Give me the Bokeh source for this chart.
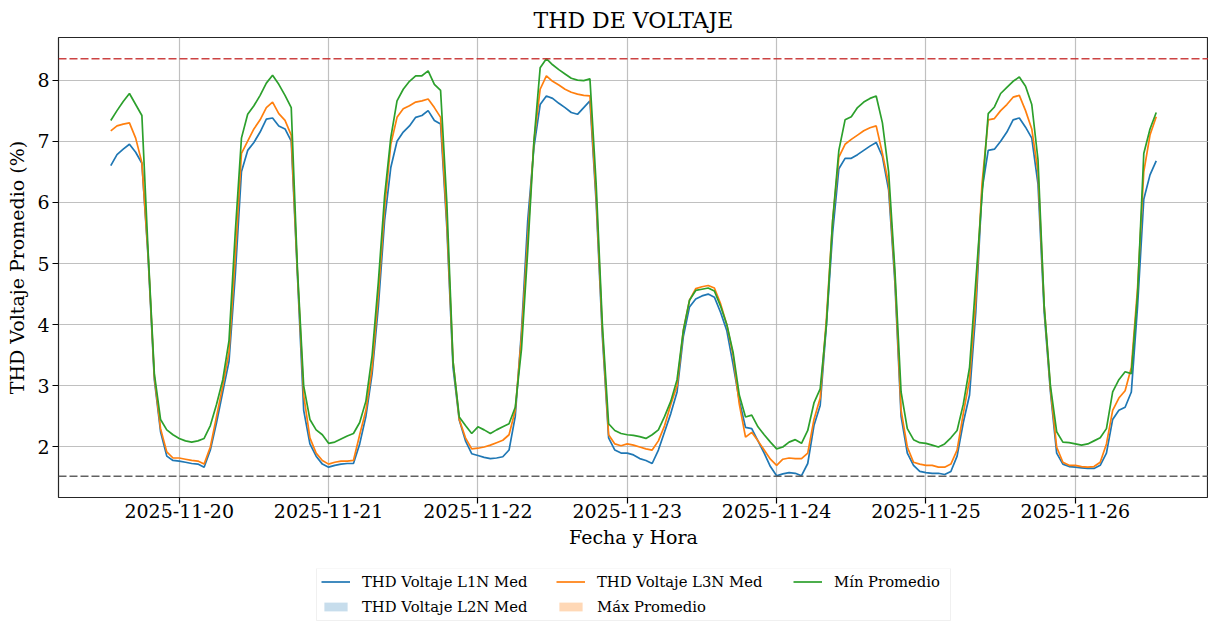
from datetime import datetime, timedelta
from bokeh.plotting import figure
from bokeh.layouts import column
from bokeh.models import (Range1d, FixedTicker, DatetimeTickFormatter, Span,
                          Legend, LegendItem, BoxAnnotation)
from bokeh.embed import file_html
from bokeh.resources import INLINE

# ---- data (hourly, starting 2025-11-19 13:00) ----
start_time = datetime(2025, 11, 19, 13)

# THD Voltaje L1N Med (blue)
l1n = [
    6.60, 6.78, 6.87, 6.95, 6.82, 6.64, 5.10, 3.10, 2.25, 1.85, 1.78,
    1.77, 1.75, 1.73, 1.72, 1.67, 1.95, 2.40, 2.90, 3.40, 4.80, 6.50, 6.85, 6.98, 7.15, 7.36, 7.38, 7.25, 7.20, 7.00, 4.80, 2.60, 2.05, 1.85, 1.72,
    1.67, 1.70, 1.72, 1.73, 1.73, 2.05, 2.50, 3.20, 4.30, 5.70, 6.57, 7.00, 7.15, 7.25, 7.39, 7.42, 7.50, 7.34, 7.28, 5.60, 3.30, 2.44, 2.10, 1.89,
    1.86, 1.83, 1.81, 1.82, 1.84, 1.95, 2.50, 3.90, 5.70, 6.90, 7.60, 7.74, 7.70, 7.62, 7.55, 7.47, 7.44, 7.55, 7.66, 6.00, 3.80, 2.15, 1.95, 1.90,
    1.90, 1.87, 1.81, 1.78, 1.73, 1.95, 2.25, 2.55, 2.90, 3.80, 4.29, 4.42, 4.47, 4.50, 4.45, 4.20, 3.90, 3.35, 2.76, 2.32, 2.30, 2.10, 1.90, 1.68,
    1.53, 1.56, 1.58, 1.57, 1.53, 1.73, 2.35, 2.68, 4.00, 5.50, 6.55, 6.72, 6.72, 6.78, 6.85, 6.92, 6.98, 6.75, 6.20, 4.70, 2.50, 1.90, 1.70, 1.60,
    1.58, 1.57, 1.57, 1.55, 1.60, 1.85, 2.40, 2.85, 4.20, 6.20, 6.85, 6.87, 7.00, 7.15, 7.35, 7.38, 7.23, 7.05, 6.30, 4.20, 2.90, 1.90, 1.72, 1.68,
    1.67, 1.66, 1.65, 1.65, 1.70, 1.90, 2.45, 2.60, 2.65, 2.90, 4.30, 6.05, 6.45, 6.68,
]

# THD Voltaje L3N Med (orange)
l3n = [
    7.17, 7.25, 7.28, 7.30, 7.05, 6.65, 5.15, 3.15, 2.30, 1.92, 1.82,
    1.82, 1.80, 1.78, 1.77, 1.72, 2.00, 2.50, 3.00, 3.55, 5.10, 6.80, 7.00, 7.20, 7.35, 7.55, 7.64, 7.45, 7.34, 7.10, 4.85, 2.85, 2.15, 1.90, 1.78,
    1.72, 1.75, 1.77, 1.77, 1.78, 2.20, 2.60, 3.30, 4.50, 5.90, 6.95, 7.39, 7.53, 7.58, 7.64, 7.66, 7.69, 7.55, 7.39, 5.70, 3.40, 2.45, 2.15, 1.97,
    1.98, 2.00, 2.03, 2.07, 2.11, 2.20, 2.60, 3.80, 5.40, 7.00, 7.85, 8.07, 7.98, 7.92, 7.85, 7.80, 7.77, 7.75, 7.74, 6.10, 3.90, 2.20, 2.05, 2.02,
    2.05, 2.03, 2.00, 1.97, 1.95, 2.10, 2.35, 2.70, 3.00, 3.90, 4.40, 4.59, 4.62, 4.64, 4.60, 4.34, 4.00, 3.50, 2.70, 2.16, 2.24, 2.10, 1.95, 1.80,
    1.70, 1.80, 1.82, 1.81, 1.81, 1.90, 2.45, 2.80, 4.10, 5.70, 6.74, 6.95, 7.03, 7.10, 7.17, 7.22, 7.25, 6.80, 6.30, 4.80, 2.60, 2.00, 1.75, 1.72,
    1.70, 1.70, 1.67, 1.67, 1.72, 1.95, 2.55, 3.10, 4.40, 6.30, 7.35, 7.37, 7.50, 7.60, 7.72, 7.75, 7.50, 7.20, 6.50, 4.30, 2.95, 2.00, 1.75, 1.70,
    1.70, 1.68, 1.67, 1.68, 1.75, 2.05, 2.60, 2.80, 2.92, 3.30, 4.60, 6.50, 7.10, 7.40,
]

# Mín Promedio (green)
min_prom = [
    7.34, 7.50, 7.65, 7.78, 7.60, 7.42, 5.20, 3.20, 2.45, 2.28, 2.20,
    2.14, 2.10, 2.08, 2.10, 2.14, 2.35, 2.70, 3.10, 3.74, 5.50, 7.05, 7.44, 7.58, 7.75, 7.95, 8.08, 7.93, 7.75, 7.55, 4.90, 3.00, 2.45, 2.28, 2.20,
    2.06, 2.08, 2.13, 2.18, 2.22, 2.40, 2.75, 3.50, 4.70, 6.10, 7.06, 7.66, 7.85, 7.98, 8.07, 8.07, 8.15, 7.93, 7.83, 6.00, 3.40, 2.49, 2.35, 2.22,
    2.33, 2.28, 2.22, 2.28, 2.33, 2.38, 2.65, 3.60, 5.20, 7.00, 8.20, 8.35, 8.25, 8.17, 8.10, 8.03, 8.00, 7.99, 8.02, 6.30, 4.00, 2.38, 2.27, 2.22,
    2.20, 2.19, 2.17, 2.14, 2.20, 2.28, 2.50, 2.75, 3.10, 3.90, 4.40, 4.56, 4.58, 4.60, 4.55, 4.30, 4.00, 3.55, 2.85, 2.49, 2.52, 2.33, 2.20, 2.08,
    1.97, 2.00, 2.08, 2.12, 2.06, 2.27, 2.72, 2.95, 4.00, 5.70, 6.85, 7.35, 7.40, 7.55, 7.64, 7.70, 7.74, 7.30, 6.50, 4.90, 2.90, 2.30, 2.12, 2.07,
    2.06, 2.03, 2.00, 2.05, 2.15, 2.27, 2.70, 3.30, 4.70, 6.10, 7.45, 7.56, 7.78, 7.88, 7.98, 8.05, 7.90, 7.60, 6.70, 4.30, 3.00, 2.25, 2.08, 2.07,
    2.05, 2.03, 2.05, 2.10, 2.15, 2.30, 2.90, 3.10, 3.23, 3.20, 4.50, 6.80, 7.20, 7.47,
]

max_ref = 8.35   # red dashed reference
min_ref = 1.52   # grey dashed reference

x_tick_dates = [datetime(2025, 11, d) for d in range(20, 27)]
y_ticks = [2, 3, 4, 5, 6, 7, 8]

labels = ["THD Voltaje L1N Med", "THD Voltaje L2N Med", "THD Voltaje L3N Med",
          "Máx Promedio", "Mín Promedio"]

BLUE, ORANGE, GREEN = "#1f77b4", "#ff7f0e", "#2ca02c"
SERIF = "DejaVu Serif"
LW = 1.7

# ---- main figure ----
times = [start_time + timedelta(hours=i) for i in range(len(l1n))]
pad = timedelta(hours=0.05 * (len(l1n) - 1))
x0, x1 = times[0] - pad, times[-1] + pad

p = figure(width=1208, height=568, x_axis_type="datetime",
           output_backend="svg", toolbar_location=None,
           x_range=Range1d(x0, x1), y_range=Range1d(1.174, 8.696),
           min_border_left=58, min_border_right=0,
           min_border_top=37, min_border_bottom=71)

p.title.text = "THD DE VOLTAJE"
p.title.align = "center"
p.title.text_font = SERIF
p.title.text_font_size = "22px"
p.title.text_font_style = "normal"
p.title.text_color = "black"
p.title.standoff = 9

p.background_fill_color = "white"
p.border_fill_color = "white"
p.outline_line_color = "black"
p.outline_line_width = 1.2
p.outline_line_alpha = 0.85

for ax in (p.xaxis, p.yaxis):
    ax.axis_line_color = None
    ax.major_tick_line_color = "black"
    ax.major_tick_line_width = 1.2
    ax.major_tick_out = 6
    ax.major_tick_in = 0
    ax.minor_tick_line_color = None
    ax.major_label_text_font = SERIF
    ax.major_label_text_font_size = "19px"
    ax.major_label_text_color = "black"
    ax.axis_label_text_font = SERIF
    ax.axis_label_text_font_size = "19px"
    ax.axis_label_text_font_style = "normal"
    ax.axis_label_text_color = "black"

p.xaxis.ticker = FixedTicker(ticks=[d.timestamp() * 1000 for d in x_tick_dates])
fmt = "%Y-%m-%d"
p.xaxis.formatter = DatetimeTickFormatter(days=fmt, months=fmt, hours=fmt,
                                          years=fmt, minutes=fmt)
p.xaxis.axis_label = "Fecha y Hora"
p.xaxis.major_label_standoff = 0
p.xaxis.axis_label_standoff = 5

p.yaxis.ticker = FixedTicker(ticks=y_ticks)
p.yaxis.axis_label = "THD Voltaje Promedio (%)"
p.yaxis.major_label_standoff = 3
p.yaxis.axis_label_standoff = 6

p.grid.grid_line_color = "#b0b0b0"
p.grid.grid_line_width = 1.2
p.grid.grid_line_alpha = 0.8

p.line(times, l1n, line_color=BLUE, line_width=LW)
p.line(times, l3n, line_color=ORANGE, line_width=LW)
p.line(times, min_prom, line_color=GREEN, line_width=LW)

p.add_layout(Span(location=max_ref, dimension="width", line_color="#c62f2f",
                  line_dash="8 3", line_width=1.5, line_alpha=0.9))
p.add_layout(Span(location=min_ref, dimension="width", line_color="#505050",
                  line_dash="8 3", line_width=1.5, line_alpha=0.9))

# ---- legend strip below the chart (its frame is aligned with the chart's) ----
LG_H = 53
lg = figure(width=1208, height=LG_H, output_backend="svg",
            toolbar_location=None,
            x_axis_location=None, y_axis_location=None,
            x_range=Range1d(58, 1208), y_range=Range1d(0, LG_H),
            min_border_left=58, min_border_right=0,
            min_border_top=0, min_border_bottom=0)
lg.outline_line_color = None
lg.grid.visible = False

# legend frame
lg.add_layout(BoxAnnotation(left=316, right=950, bottom=1, top=LG_H,
                            fill_color="white", fill_alpha=1,
                            line_color="#cccccc", line_width=1))

nan = float("nan")
k1 = lg.line([nan], [nan], line_color=BLUE, line_width=LW)
k2 = lg.quad(left=[nan], right=[nan], top=[nan], bottom=[nan],
             fill_color=BLUE, fill_alpha=0.25, line_color=None)
k3 = lg.line([nan], [nan], line_color=ORANGE, line_width=LW)
k4 = lg.quad(left=[nan], right=[nan], top=[nan], bottom=[nan],
             fill_color=ORANGE, fill_alpha=0.3, line_color=None)
k5 = lg.line([nan], [nan], line_color=GREEN, line_width=LW)

renderers = [k1, k2, k3, k4, k5]
items = [LegendItem(label=lab, renderers=[r], index=0)
         for lab, r in zip(labels, renderers)]


def style(leg):
    leg.label_text_font = SERIF
    leg.label_text_font_size = "14.8px"
    leg.label_text_color = "black"
    leg.glyph_width = 29
    leg.glyph_height = 11
    leg.label_height = 17
    leg.label_standoff = 12
    leg.spacing = 8
    leg.padding = 5
    leg.margin = 0
    leg.border_line_color = None
    leg.background_fill_alpha = 0


leg_a = Legend(items=items[:4], location=(321 - 58, 6),
               orientation="vertical", ncols=2)
style(leg_a)
leg_a.label_width = 186
leg_b = Legend(items=items[4:], location=(793 - 58, 31),
               orientation="vertical", ncols=1)
style(leg_b)
lg.add_layout(leg_a, "center")
lg.add_layout(leg_b, "center")

layout = column(p, lg, spacing=0)
open("out.html", "w").write(file_html(layout, INLINE))
